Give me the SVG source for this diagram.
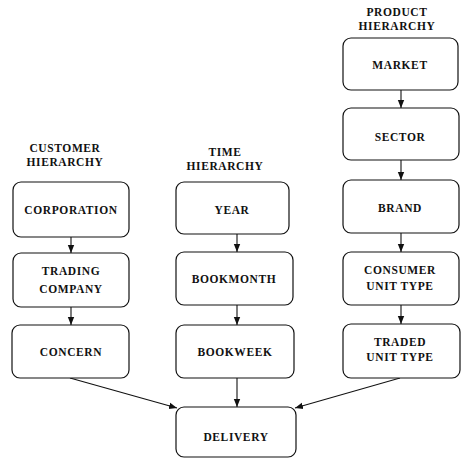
<svg xmlns="http://www.w3.org/2000/svg" width="462" height="458" viewBox="0 0 462 458">
<style>
.box{fill:#fff;stroke:#111;stroke-width:1.2}
.t{font-family:"Liberation Serif","Times New Roman",serif;font-weight:bold;font-size:11.5px;letter-spacing:0.6px;fill:#111;text-anchor:middle;dominant-baseline:central}
.c{stroke:#111;stroke-width:1.1;fill:none;marker-end:url(#ah)}
</style>
<defs>
<marker id="ah" viewBox="0 0 10 10" refX="10" refY="5" markerWidth="8" markerHeight="8" markerUnits="userSpaceOnUse" orient="auto">
<path d="M0,1 L10,5 L0,9 z" fill="#111"/>
</marker>
</defs>
<rect width="462" height="458" fill="#fff"/>
<g id="labels">
<text class="t" x="65" y="148">CUSTOMER</text>
<text class="t" x="65" y="162">HIERARCHY</text>
<text class="t" x="225" y="152">TIME</text>
<text class="t" x="225" y="166">HIERARCHY</text>
<text class="t" x="397" y="12">PRODUCT</text>
<text class="t" x="397" y="26">HIERARCHY</text>
</g>
<g id="connectors">
<line class="c" x1="71" y1="237" x2="71" y2="253"/>
<line class="c" x1="71" y1="307" x2="71" y2="325"/>
<line class="c" x1="237" y1="234" x2="237" y2="252"/>
<line class="c" x1="237" y1="305" x2="237" y2="325"/>
<line class="c" x1="237" y1="378" x2="237" y2="407"/>
<line class="c" x1="401" y1="90" x2="401" y2="108"/>
<line class="c" x1="401" y1="160" x2="401" y2="180"/>
<line class="c" x1="401" y1="233" x2="401" y2="252"/>
<line class="c" x1="401" y1="305" x2="401" y2="324"/>
<line class="c" x1="70" y1="378" x2="177" y2="408"/>
<line class="c" x1="400" y1="378" x2="295" y2="408"/>
</g>
<g id="corporation"><rect class="box" x="13" y="182" width="116" height="55" rx="8"/><text class="t" x="71" y="210">CORPORATION</text></g>
<g id="trading-company"><rect class="box" x="13" y="253" width="116" height="54" rx="8"/><text class="t" x="71" y="271">TRADING</text><text class="t" x="71" y="289">COMPANY</text></g>
<g id="concern"><rect class="box" x="12" y="325" width="117" height="53" rx="8"/><text class="t" x="71" y="352">CONCERN</text></g>
<g id="year"><rect class="box" x="176" y="182" width="113" height="52" rx="8"/><text class="t" x="232" y="210">YEAR</text></g>
<g id="bookmonth"><rect class="box" x="176" y="252" width="117" height="53" rx="8"/><text class="t" x="234" y="279">BOOKMONTH</text></g>
<g id="bookweek"><rect class="box" x="176" y="325" width="118" height="53" rx="8"/><text class="t" x="235" y="352">BOOKWEEK</text></g>
<g id="market"><rect class="box" x="343" y="38" width="115" height="52" rx="8"/><text class="t" x="400" y="65">MARKET</text></g>
<g id="sector"><rect class="box" x="343" y="108" width="116" height="52" rx="8"/><text class="t" x="400" y="137">SECTOR</text></g>
<g id="brand"><rect class="box" x="343" y="180" width="116" height="53" rx="8"/><text class="t" x="400" y="208">BRAND</text></g>
<g id="consumer-unit-type"><rect class="box" x="343" y="252" width="116" height="53" rx="8"/><text class="t" x="400" y="270">CONSUMER</text><text class="t" x="400" y="286">UNIT TYPE</text></g>
<g id="traded-unit-type"><rect class="box" x="343" y="324" width="117" height="54" rx="8"/><text class="t" x="400" y="342">TRADED</text><text class="t" x="400" y="357">UNIT TYPE</text></g>
<g id="delivery"><rect class="box" x="176" y="407" width="120" height="50" rx="8"/><text class="t" x="236" y="437">DELIVERY</text></g>
</svg>
